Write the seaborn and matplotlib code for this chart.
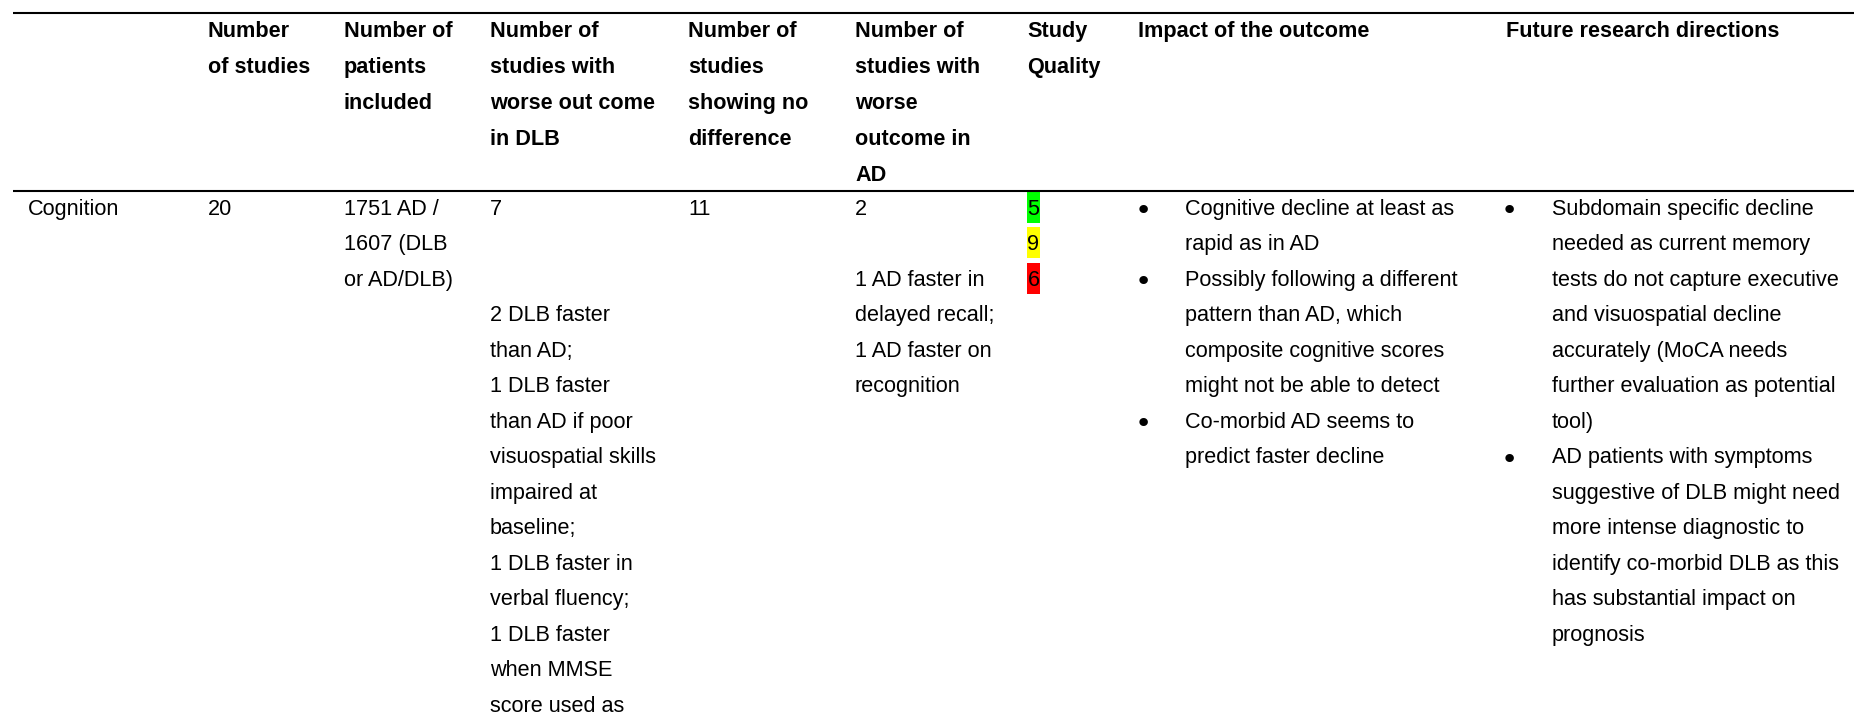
import matplotlib
matplotlib.use("Agg")
import matplotlib.pyplot as plt
from matplotlib import font_manager
import seaborn as sns

# ---------------- data ----------------
header_studies = ["Number", "of studies"]
header_patients = ["Number of", "patients", "included"]
header_worse_dlb = ["Number of", "studies with", "worse out come", "in DLB"]
header_no_diff = ["Number of", "studies", "showing no", "difference"]
header_worse_ad = ["Number of", "studies with", "worse", "outcome in", "AD"]
header_quality = ["Study", "Quality"]
header_impact = ["Impact of the outcome"]
header_future = ["Future research directions"]

row_label = ["Cognition"]
n_studies = ["20"]
n_patients = ["1751 AD /", "1607 (DLB", "or AD/DLB)"]
worse_dlb = ["7", "", "", "2 DLB faster", "than AD;", "1 DLB faster",
             "than AD if poor", "visuospatial skills", "impaired at",
             "baseline;", "1 DLB faster in", "verbal fluency;",
             "1 DLB faster", "when MMSE", "score used as"]
no_diff = ["11"]
worse_ad = ["2", "", "1 AD faster in", "delayed recall;", "1 AD faster on",
            "recognition"]
quality_counts = ["5", "9", "6"]
quality_colors = ["#00ff00", "#ffff00", "#ff0000"]
impact_bullets = [
    ["Cognitive decline at least as", "rapid as in AD"],
    ["Possibly following a different", "pattern than AD, which",
     "composite cognitive scores", "might not be able to detect"],
    ["Co-morbid AD seems to", "predict faster decline"],
]
future_bullets = [
    ["Subdomain specific decline", "needed as current memory",
     "tests do not capture executive", "and visuospatial decline",
     "accurately (MoCA needs", "further evaluation as potential", "tool)"],
    ["AD patients with symptoms", "suggestive of DLB might need",
     "more intense diagnostic to", "identify co-morbid DLB as this",
     "has substantial impact on", "prognosis"],
]

# ---------------- style ----------------
sns.set_theme(style="white")
avail = {f.name for f in font_manager.fontManager.ttflist}
fam = "Liberation Sans Narrow" if "Liberation Sans Narrow" in avail else "Liberation Sans"
plt.rcParams["font.family"] = [fam, "DejaVu Sans"]

W, H = 1854, 715
fig = plt.figure(figsize=(W / 100, H / 100), dpi=100)
ax = fig.add_axes([0, 0, 1, 1])
ax.set_xlim(0, W)
ax.set_ylim(H, 0)
ax.axis("off")

FS = 15.6
CAP = 7.9  # half cap height in px
head_y0, head_dy = 29, 36.0
body_y0, body_dy = 207, 35.5

col_x = [28, 208, 344, 490, 688, 855, 1027, 1138, 1506]


def lines_at(x, lines, y0, dy, bold=False):
    for i, s in enumerate(lines):
        if s:
            ax.text(x, y0 + i * dy + CAP, s, fontsize=FS, va="baseline",
                    ha="left", fontweight="bold" if bold else "normal",
                    color="black")


# rules
for y in (12.7, 191):
    ax.plot([12.7, W], [y, y], color="black", lw=1.5, solid_capstyle="butt")

# header
headers = [[], header_studies, header_patients, header_worse_dlb,
           header_no_diff, header_worse_ad, header_quality, header_impact,
           header_future]
for x, h in zip(col_x, headers):
    lines_at(x, h, head_y0, head_dy, bold=True)

# body simple columns
for x, col in zip(col_x[:6], [row_label, n_studies, n_patients, worse_dlb,
                              no_diff, worse_ad]):
    lines_at(x, col, body_y0, body_dy)

# study quality highlighted counts
qy = [body_y0 + i * body_dy for i in range(len(quality_counts))]
ax.barh(qy, width=13, left=col_x[6], height=31, color=quality_colors,
        edgecolor="none")
for y, s in zip(qy, quality_counts):
    ax.text(col_x[6] + 6.5, y + CAP, s, fontsize=FS, va="baseline",
            ha="center", color="black")


def bullets(xc, xt, items):
    line = 0
    for item in items:
        ax.text(xc, body_y0 + line * body_dy + 1, "\u2022", fontsize=21,
                va="center_baseline", ha="center", color="black",
                family=["DejaVu Sans"])
        lines_at(xt, item, body_y0 + line * body_dy, body_dy)
        line += len(item)


bullets(1143, 1185, impact_bullets)
bullets(1509, 1552, future_bullets)

fig.savefig("out.png", dpi=100)
